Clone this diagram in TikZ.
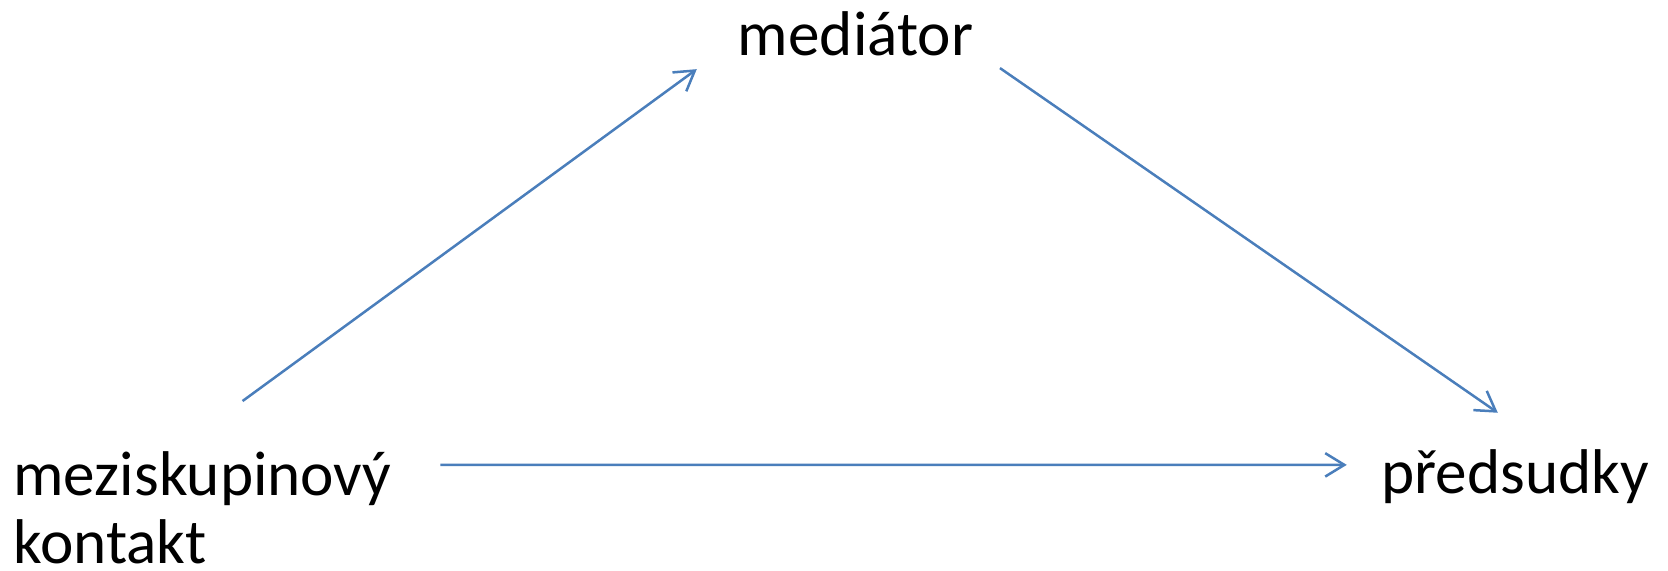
\documentclass[tikz,border=0pt]{standalone}
\usepackage{fontspec}
\setmainfont{Carlito}
\usetikzlibrary{arrows.meta}
\definecolor{arrowblue}{RGB}{74,126,187}
\begin{document}
\begin{tikzpicture}[main/.style = {inner sep=0pt, font=\fontsize{16.9}{18.3}\selectfont}, arr/.style = {draw=arrowblue, line width=0.67pt, -{Straight Barb[length=1.8mm,width=2.2mm]}}]
		\useasboundingbox (0,0) rectangle (15.68,5.36);
		\node[main, anchor=base west] (1) at (0.12,0.06) [align=left] {meziskupinový\\kontakt};
		\node[main, anchor=base west] (2) at (6.93,4.84) {mediátor};
		\node[main, anchor=base west] (3) at (12.98,0.72) {předsudky};
		\draw[arr] ([shift={(2.16,1.53)}]1.base west) -- ([shift={(-0.38,-0.13)}]2.base west);
		\draw[arr] ([shift={(2.47,-0.12)}]2.base west) -- ([shift={(1.10,0.76)}]3.base west);
		\draw[arr] ([shift={(4.02,0.93)}]1.base west) -- ([shift={(-0.32,0.27)}]3.base west);
	\end{tikzpicture}
\end{document}
